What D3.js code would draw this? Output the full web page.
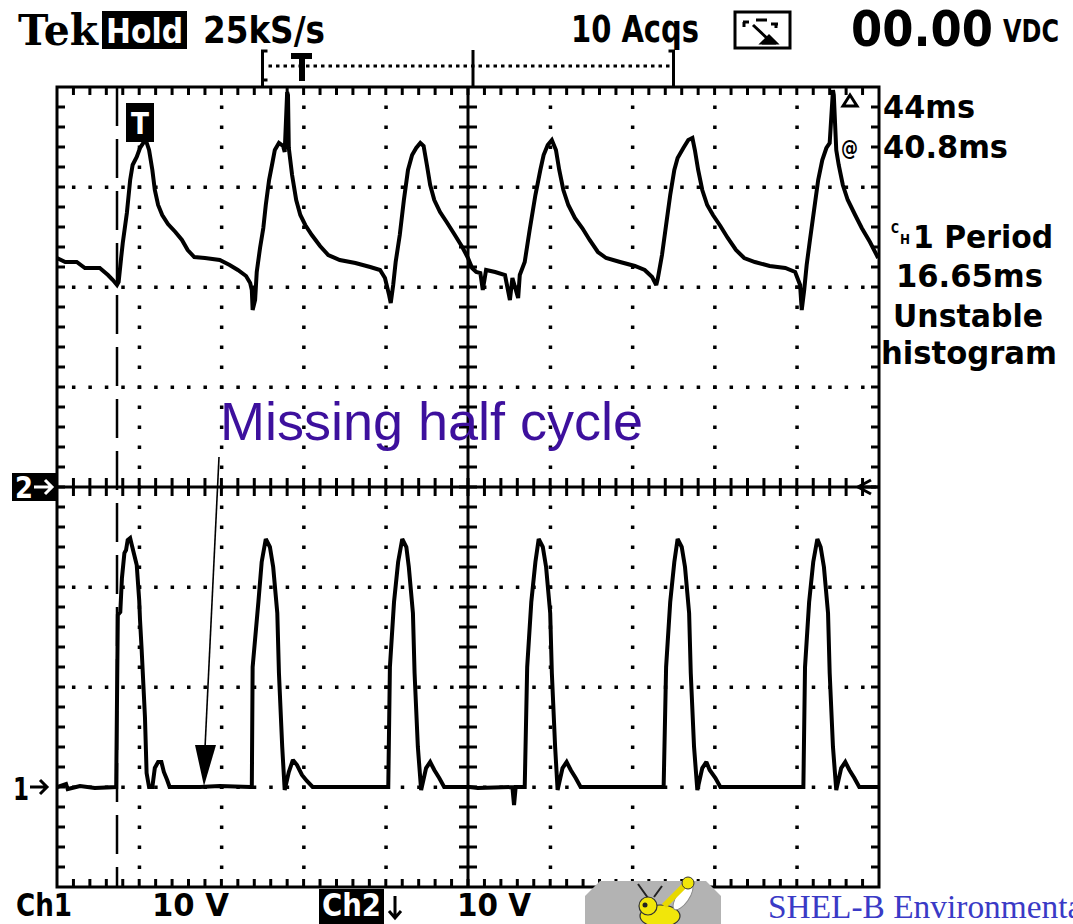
<!DOCTYPE html>
<html>
<head>
<meta charset="utf-8">
<script src="https://cdn.jsdelivr.net/npm/d3@7"></script>
<style>
  body { margin: 0; background: #fff; }
  svg { display: block; }
  .lbl { font-family: "DejaVu Sans Condensed", "Liberation Sans Narrow", "DejaVu Sans", sans-serif; font-weight: bold; }
</style>
</head>
<body>
<div id="container"></div>
<script>
// Ch2 trace (top): [time ms, volts], 10 V/div, ground at centre line
const ch2Trace = [
  [0.0, 22.9], [1.0, 22.5], [2.4, 22.5], [3.4, 21.9], [5.2, 21.9], [6.2, 21.2], [6.8, 20.7], [7.3, 20.2], [7.5, 20.5],
  [7.8, 22.9], [8.0, 24.4], [8.5, 27.4], [8.9, 30.7], [9.2, 32.2], [9.7, 33.0], [10.1, 33.9], [10.5, 34.4], [10.8, 34.7],
  [11.2, 33.7], [11.6, 31.7], [11.9, 29.7], [12.3, 28.2], [12.8, 27.2], [13.5, 26.3], [14.4, 25.5], [15.2, 24.7],
  [15.9, 23.7], [16.7, 23.0], [18.0, 22.9], [19.8, 22.7], [21.0, 22.2], [22.0, 21.7], [23.0, 21.1], [23.5, 20.4],
  [23.7, 19.7], [23.8, 17.7], [24.1, 18.7], [24.3, 21.5], [24.7, 23.9], [25.1, 25.9], [25.4, 28.2], [25.8, 30.7],
  [26.2, 32.4], [26.5, 33.7], [27.0, 34.4], [27.5, 34.1], [27.7, 33.5], [28.0, 39.5], [28.1, 39.2], [28.2, 33.9],
  [28.6, 31.2], [29.1, 28.7], [29.6, 27.2], [30.2, 26.2], [31.0, 25.2], [32.0, 24.1], [33.0, 23.2], [34.4, 22.7],
  [36.3, 22.4], [38.1, 22.0], [39.3, 21.7], [39.9, 20.9], [40.4, 19.2], [40.6, 18.4], [40.9, 20.2], [41.2, 22.5],
  [41.7, 25.2], [42.2, 28.7], [42.7, 31.7], [43.2, 33.2], [43.7, 33.9], [44.2, 34.4], [44.6, 34.1], [45.0, 32.2],
  [45.4, 30.2], [45.9, 28.7], [46.6, 27.5], [47.4, 26.5], [48.4, 25.2], [49.3, 24.0], [50.0, 22.9], [50.5, 21.9],
  [51.0, 21.5], [51.5, 21.4], [51.8, 19.7], [52.2, 21.7], [53.3, 21.5], [54.5, 21.2], [55.1, 18.7], [55.4, 20.9],
  [56.1, 18.9], [56.3, 21.2], [56.9, 22.5], [57.5, 25.7], [58.2, 29.2], [58.8, 31.7], [59.2, 33.2], [59.7, 34.2],
  [60.2, 34.7], [60.7, 33.7], [61.1, 31.7], [61.6, 29.7], [62.2, 28.2], [63.0, 26.9], [63.9, 25.9], [64.8, 24.7],
  [65.8, 23.5], [66.8, 22.9], [68.5, 22.5], [70.3, 22.1], [71.5, 21.7], [72.4, 21.0], [72.9, 20.2], [73.1, 20.9],
  [73.6, 23.2], [74.1, 26.2], [74.6, 29.2], [75.1, 31.7], [75.5, 32.9], [76.2, 33.9], [76.8, 34.7], [77.3, 34.9],
  [77.6, 33.7], [78.0, 31.7], [78.5, 29.7], [79.1, 28.2], [79.8, 27.2], [80.7, 26.1], [81.6, 24.9], [82.6, 23.7],
  [83.6, 22.9], [84.9, 22.5], [86.7, 22.1], [88.6, 21.9], [89.8, 21.5], [90.4, 20.2], [90.6, 17.7], [90.9, 19.7],
  [91.2, 22.2], [91.6, 24.7], [92.1, 27.7], [92.6, 30.7], [93.1, 32.7], [93.6, 33.9], [94.0, 34.4], [94.4, 39.7],
  [94.5, 39.2], [94.8, 33.7], [95.1, 32.2], [95.6, 30.2], [96.2, 28.7], [97.1, 27.2], [97.9, 25.9], [98.9, 24.5],
  [99.9, 22.9]
];

// Ch1 trace (bottom): [time ms, volts], 10 V/div, ground at "1" marker
const ch1Trace = [
  [0.0, 0.0], [1.1, 0.3], [1.3, -0.2], [2.8, 0.1], [4.6, -0.1], [7.2, 0.0],
  [7.3, 8.7], [7.4, 17.2], [7.7, 17.5], [7.9, 20.9], [8.2, 23.4], [8.4, 23.7], [8.6, 24.7], [8.9, 24.9], [9.1, 24.2],
  [9.4, 23.2], [9.7, 22.2], [10.0, 18.7], [10.1, 16.7], [10.3, 13.7], [10.7, 7.0], [10.9, 1.4], [11.2, 0.0],
  [11.6, 0.0], [11.9, 1.9], [12.3, 2.5], [12.7, 2.5], [13.0, 1.5], [13.4, 0.7], [13.7, 0.0], [17.4, 0.0],
  [19.8, 0.1], [23.5, 0.0],
  [23.7, 0.0], [23.8, 12.0], [24.5, 18.5], [24.9, 22.5], [25.4, 24.8], [25.9, 24.0], [26.3, 22.0], [26.8, 17.4],
  [27.0, 11.4], [27.4, 4.0], [27.7, -0.3], [28.2, 1.5], [28.7, 2.7], [29.2, 2.2], [29.8, 1.2], [30.4, 0.6],
  [31.1, 0.0], [39.9, 0.0],
  [40.3, 0.0], [40.5, 12.0], [41.0, 18.5], [41.5, 22.5], [42.0, 24.8], [42.5, 24.0], [42.8, 22.0], [43.3, 17.4],
  [43.5, 11.4], [43.9, 4.0], [44.3, -0.3], [44.9, 1.9], [45.4, 2.5], [45.9, 1.7], [46.5, 0.9], [47.1, 0.0],
  [50.2, 0.0], [51.2, -0.1], [55.4, 0.0], [55.6, -1.8], [55.8, 0.0], [56.8, 0.0],
  [56.9, 0.0], [57.2, 12.0], [57.7, 18.5], [58.2, 22.5], [58.6, 24.8], [59.1, 24.0], [59.5, 22.0], [60.0, 17.4],
  [60.2, 11.4], [60.6, 4.0], [60.9, -0.3], [61.5, 1.9], [62.0, 2.5], [62.5, 1.7], [63.1, 0.9], [63.7, 0.0],
  [73.6, 0.0],
  [73.8, 0.0], [74.1, 12.0], [74.6, 18.5], [75.1, 22.5], [75.5, 24.8], [76.0, 24.0], [76.4, 22.0], [76.9, 17.4],
  [77.1, 11.4], [77.5, 4.0], [77.9, -0.3], [78.5, 1.9], [79.0, 2.5], [79.4, 1.7], [80.1, 0.9], [80.7, 0.0],
  [90.4, 0.0],
  [90.8, 0.0], [91.0, 12.0], [91.5, 18.5], [92.0, 22.5], [92.5, 24.8], [92.9, 24.0], [93.3, 22.0], [93.8, 17.4],
  [94.0, 11.4], [94.4, 4.0], [94.8, -0.3], [95.4, 1.9], [95.9, 2.5], [96.4, 1.7], [97.0, 0.9], [97.6, 0.0],
  [99.9, 0.0]
];

// header and readout texts
const headerLeft = ["Tek", "Hold", "25kS/s"];
const headerRight = ["10 Acqs", "00.00", "VDC"];
const readouts = ["44ms", "40.8ms", "1 Period", "16.65ms", "Unstable", "histogram"];
const footer = ["Ch1", "10 V", "Ch2", "10 V"];
const annotation = "Missing half cycle";
const company = "SHEL-B Environmental";

const triggerTime = 7.3;     // ms, dashed trigger line
const recordView = [25, 75]; // ms, bracket on the record bar

const width = 1073;
const height = 924;

const svg = d3.select("#container")
    .append("svg")
    .attr("width", width)
    .attr("height", height);

svg.append("rect").attr("width", width).attr("height", height).attr("fill", "#fff");

// scales: 10 ms/div over 10 div, 8 vertical div
const timeScale = d3.scaleLinear().domain([0, 100]).range([57, 879]);
const divX = d3.scaleLinear().domain([0, 10]).range([57, 879]);
const divY = d3.scaleLinear().domain([0, 8]).range([87, 887]);
const ch2Scale = d3.scaleLinear().domain([-40, 40]).range([887, 87]);
const ch1Scale = d3.scaleLinear().domain([-10, 70]).range([887, 87]);

const grat = svg.append("g").attr("stroke", "#000").attr("fill", "#000");

// dotted major lines
const minorX = d3.range(1, 50).map(i => i / 5);
const minorY = d3.range(1, 40).map(i => i / 5);
for (const c of [1, 2, 3, 4, 6, 7, 8, 9]) {
    grat.selectAll(null).data(minorY).enter().append("rect")
        .attr("x", divX(c) - 1.5).attr("y", d => divY(d) - 1.5)
        .attr("width", 3.5).attr("height", 3.5).attr("stroke", "none");
}
for (const r of [1, 2, 3, 5, 6, 7]) {
    grat.selectAll(null).data(minorX).enter().append("rect")
        .attr("x", d => divX(d) - 1.5).attr("y", divY(r) - 1.5)
        .attr("width", 3.5).attr("height", 3.5).attr("stroke", "none");
}

// frame
grat.append("rect")
    .attr("x", divX(0)).attr("y", divY(0))
    .attr("width", divX(10) - divX(0)).attr("height", divY(8) - divY(0))
    .attr("fill", "none").attr("stroke-width", 3);

// border ticks pointing inward
const tickLen = 8;
grat.selectAll(null).data(minorX).enter().append("line")
    .attr("x1", d => divX(d)).attr("x2", d => divX(d))
    .attr("y1", divY(0)).attr("y2", divY(0) + tickLen).attr("stroke-width", 3);
grat.selectAll(null).data(minorX).enter().append("line")
    .attr("x1", d => divX(d)).attr("x2", d => divX(d))
    .attr("y1", divY(8)).attr("y2", divY(8) - tickLen).attr("stroke-width", 3);
grat.selectAll(null).data(minorY).enter().append("line")
    .attr("x1", divX(0)).attr("x2", divX(0) + tickLen)
    .attr("y1", d => divY(d)).attr("y2", d => divY(d)).attr("stroke-width", 3);
grat.selectAll(null).data(minorY).enter().append("line")
    .attr("x1", divX(10)).attr("x2", divX(10) - tickLen)
    .attr("y1", d => divY(d)).attr("y2", d => divY(d)).attr("stroke-width", 3);

// centre crosshair with ticks both sides
grat.append("line").attr("x1", divX(0)).attr("x2", divX(10))
    .attr("y1", divY(4)).attr("y2", divY(4)).attr("stroke-width", 3);
grat.append("line").attr("x1", divX(5)).attr("x2", divX(5))
    .attr("y1", divY(0)).attr("y2", divY(8)).attr("stroke-width", 3);
grat.selectAll(null).data(minorX).enter().append("line")
    .attr("x1", d => divX(d)).attr("x2", d => divX(d))
    .attr("y1", divY(4) - 9).attr("y2", divY(4) + 9).attr("stroke-width", 3);
grat.selectAll(null).data(minorY).enter().append("line")
    .attr("x1", divX(5) - 9).attr("x2", divX(5) + 9)
    .attr("y1", d => divY(d)).attr("y2", d => divY(d)).attr("stroke-width", 3);

// trigger position dashed line
svg.append("line")
    .attr("x1", timeScale(triggerTime)).attr("x2", timeScale(triggerTime))
    .attr("y1", divY(0)).attr("y2", divY(8))
    .attr("stroke", "#000").attr("stroke-width", 2.5)
    .attr("stroke-dasharray", "39 13");

// traces
svg.append("clipPath").attr("id", "screen")
    .append("rect").attr("x", divX(0)).attr("y", divY(0) - 2)
    .attr("width", divX(10) - divX(0)).attr("height", divY(8) - divY(0) + 4);

const ch2Line = d3.line().x(d => timeScale(d[0])).y(d => ch2Scale(d[1]));
const ch1Line = d3.line().x(d => timeScale(d[0])).y(d => ch1Scale(d[1]));

const traces = svg.append("g").attr("clip-path", "url(#screen)")
    .attr("fill", "none").attr("stroke", "#000").attr("stroke-width", 4)
    .attr("stroke-linejoin", "miter").attr("stroke-miterlimit", 2);
traces.append("path").datum(ch2Trace).attr("d", ch2Line);
traces.append("path").datum(ch1Trace).attr("d", ch1Line);

// helper for scope text
function label(txt, x, y, size, len, opts = {}) {
    return svg.append("text")
        .attr("class", opts.cls || "lbl")
        .attr("x", x).attr("y", y)
        .attr("font-size", size)
        .attr("fill", opts.fill || "#000")
        .attr("textLength", len)
        .attr("lengthAdjust", "spacingAndGlyphs")
        .text(txt);
}

// trigger "T" box
svg.append("rect").attr("x", 126).attr("y", 103).attr("width", 28).attr("height", 39).attr("fill", "#000");
label("T", 131, 134, 30, 18, { fill: "#fff" });

// record bar at top
const bar = svg.append("g").attr("stroke", "#000").attr("stroke-width", 3).attr("fill", "none");
bar.append("path").attr("d", `M${timeScale(recordView[0]) + 5},51 H${timeScale(recordView[0])} V86 M${timeScale(recordView[0])},80 h5`);
bar.append("path").attr("d", `M${timeScale(recordView[1]) - 5},51 H${timeScale(recordView[1])} V86`);
bar.append("line").attr("x1", divX(5) + 5).attr("x2", divX(5) + 5).attr("y1", 50).attr("y2", 87);
bar.append("line")
    .attr("x1", timeScale(recordView[0]) + 6).attr("x2", timeScale(recordView[1]) - 3)
    .attr("y1", 66).attr("y2", 66).attr("stroke-dasharray", "3.5 4");
svg.append("rect").attr("x", 291).attr("y", 53).attr("width", 21).attr("height", 6).attr("fill", "#000");
svg.append("rect").attr("x", 299).attr("y", 53).attr("width", 6).attr("height", 28).attr("fill", "#000");

// header
svg.append("text").attr("x", 18).attr("y", 45)
    .attr("font-family", "'DejaVu Serif', 'Liberation Serif', serif").attr("font-weight", "bold")
    .attr("font-size", 42).attr("textLength", 80).attr("lengthAdjust", "spacingAndGlyphs")
    .text(headerLeft[0]);
svg.append("rect").attr("x", 102).attr("y", 11).attr("width", 85).attr("height", 38).attr("fill", "#000");
label(headerLeft[1], 106, 43, 34, 77, { fill: "#fff" });
label(headerLeft[2], 203, 43, 38, 122);
label(headerRight[0], 571, 42, 38, 128);
label(headerRight[1], 851, 46, 50, 142);
label(headerRight[2], 1003, 42, 32, 56);

// acquisition icon
const icon = svg.append("g").attr("stroke", "#000").attr("stroke-width", 3).attr("fill", "none");
icon.append("rect").attr("x", 735).attr("y", 12).attr("width", 55).attr("height", 36);
icon.append("path").attr("d", "M743,22 h6 M744,22 v5 M756,20 h11 M771,24 h7 M776,24 v4 M753,25 L769,40 M762,43 h14");
icon.append("path").attr("d", "M762,43 L769,36 L776,43 Z").attr("fill", "#000");

// cursor readouts
svg.append("path").attr("d", "M850,95 L857,106 L843,106 Z")
    .attr("fill", "none").attr("stroke", "#000").attr("stroke-width", 3);
label("@", 841, 155, 22, 17);
label(readouts[0], 883, 118, 32, 92);
label(readouts[1], 883, 158, 32, 125);
label("C", 891, 233, 14, 8);
label("H", 900, 244, 14, 10);
label(readouts[2], 913, 248, 32, 140);
label(readouts[3], 896, 287, 32, 147);
label(readouts[4], 893, 327, 32, 150);
label(readouts[5], 881, 364, 32, 176);

// ground markers
svg.append("rect").attr("x", 12).attr("y", 473).attr("width", 44).attr("height", 28).attr("fill", "#000");
label("2", 15, 498, 30, 18, { fill: "#fff" });
svg.append("path").attr("d", "M34,487 H52 M45,480 L52,487 L45,494")
    .attr("stroke", "#fff").attr("stroke-width", 3).attr("fill", "none");
label("1", 13, 800, 32, 16);
svg.append("path").attr("d", "M30,787 H47 M40,780 L47,787 L40,794")
    .attr("stroke", "#000").attr("stroke-width", 3).attr("fill", "none");
svg.append("path").attr("d", "M871,480 L858,487 L871,494 M858,487 H876")
    .attr("stroke", "#000").attr("stroke-width", 3).attr("fill", "none");

// footer
label(footer[0], 16, 916, 32, 56);
label(footer[1], 152, 916, 32, 77);
svg.append("rect").attr("x", 319).attr("y", 889).attr("width", 65).attr("height", 35).attr("fill", "#000");
label(footer[2], 322, 916, 32, 59, { fill: "#fff" });
svg.append("path").attr("d", "M395,896 V918 M389,911 L395,918 L401,911")
    .attr("stroke", "#000").attr("stroke-width", 3).attr("fill", "none");
label(footer[3], 457, 916, 32, 74);

// annotation
svg.append("text").attr("x", 220).attr("y", 440)
    .attr("font-family", "'Liberation Sans', Arial, sans-serif")
    .attr("font-size", 54).attr("fill", "#3d109d")
    .text(annotation);
svg.append("line").attr("x1", 219).attr("y1", 457).attr("x2", 205).attr("y2", 748)
    .attr("stroke", "#000").attr("stroke-width", 1.6);
svg.append("path").attr("d", "M195,745 L216,745 L204,786 Z").attr("fill", "#000");

// logo
const logo = svg.append("g");
logo.append("path").attr("d", "M600,881 H706 L721,896 V924 H585 V896 Z").attr("fill", "#b3b3b3");
logo.append("path").attr("d", "M648,898 L638,884 M654,897 L662,886").attr("stroke", "#222").attr("stroke-width", 2);
logo.append("ellipse").attr("cx", 660).attr("cy", 916).attr("rx", 20).attr("ry", 11)
    .attr("fill", "#f1e60a").attr("stroke", "#333").attr("stroke-width", 1.2);
logo.append("circle").attr("cx", 648).attr("cy", 906).attr("r", 9)
    .attr("fill", "#f1e60a").attr("stroke", "#333").attr("stroke-width", 1.2);
logo.append("circle").attr("cx", 645).attr("cy", 905).attr("r", 2.5).attr("fill", "#222");
logo.append("ellipse").attr("cx", 683).attr("cy", 897).attr("rx", 6).attr("ry", 15)
    .attr("transform", "rotate(35,683,897)").attr("fill", "#fff").attr("stroke", "#888");
logo.append("path").attr("d", "M664,906 L684,886").attr("stroke", "#e8d800").attr("stroke-width", 6);
logo.append("circle").attr("cx", 688).attr("cy", 883).attr("r", 6)
    .attr("fill", "#f1e60a").attr("stroke", "#333").attr("stroke-width", 1);

svg.append("text").attr("x", 768).attr("y", 918)
    .attr("font-family", "'Liberation Serif', 'DejaVu Serif', serif")
    .attr("font-size", 33.4).attr("fill", "#3a3ac6")
    .text(company);
</script>
</body>
</html>
